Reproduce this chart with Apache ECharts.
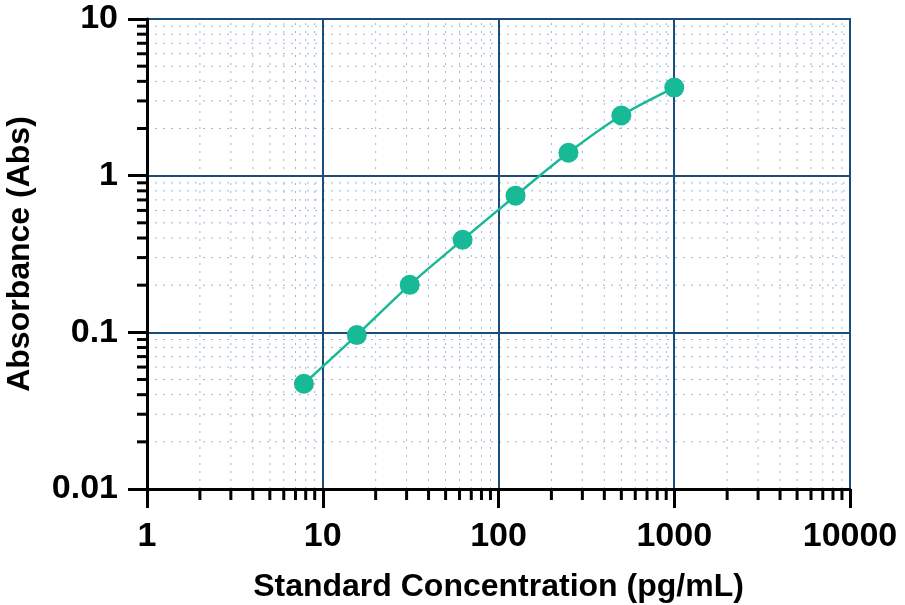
<!DOCTYPE html>
<html>
<head>
<meta charset="utf-8">
<script src="https://cdn.jsdelivr.net/npm/echarts@6/dist/echarts.min.js"></script>
<style>
  html, body { margin: 0; padding: 0; background: #fff; }
  #main { width: 905px; height: 605px; }
</style>
</head>
<body>
<div id="main"></div>
<script>
// standard curve: concentration (pg/mL) vs absorbance
var concentration = [7.8125, 15.625, 31.25, 62.5, 125, 250, 500, 1000];
var absorbance = [0.047, 0.096, 0.201, 0.39, 0.745, 1.40, 2.42, 3.65];

var xTickLabels = ['1', '10', '100', '1000', '10000'];
var yTickLabels = ['0.01', '0.1', '1', '10'];

var teal = '#17b997';
var gridBlue = '#1b4d7a';
var minorBlue = '#9db8d2';

// minor tick positions (2..9 in each decade)
function minorValues(lo, hi) {
  var out = [];
  for (var d = lo; d < hi; d *= 10) {
    for (var m = 2; m <= 9; m++) out.push(m * d);
  }
  return out;
}
var xMinor = minorValues(1, 10000);
var yMinor = minorValues(0.01, 10);

var myChart = echarts.init(document.getElementById('main'));

var fontFam = 'Liberation Sans, Arial, sans-serif';
var labelFont = { color: '#000', fontFamily: fontFam, fontWeight: 'bold', fontSize: 34 };
var nameFont = { color: '#000', fontFamily: fontFam, fontWeight: 'bold', fontSize: 32 };

function minorRender(isX) {
  return function (params, api) {
    var a, b, tick;
    if (isX) {
      var xv = api.value(0);
      a = api.coord([xv, 0.01]);
      b = api.coord([xv, 10]);
      tick = { x1: a[0], y1: a[1], x2: a[0], y2: a[1] + 11 };
    } else {
      var yv = api.value(1);
      a = api.coord([1, yv]);
      b = api.coord([10000, yv]);
      tick = { x1: a[0], y1: a[1], x2: a[0] - 10, y2: a[1] };
    }
    return {
      type: 'group',
      children: [
        { type: 'line', shape: { x1: a[0], y1: a[1], x2: b[0], y2: b[1] },
          style: { stroke: minorBlue, lineWidth: 1, lineDash: [2, 6] } },
        { type: 'line', shape: tick, style: { stroke: '#000', lineWidth: 3 } }
      ]
    };
  };
}

myChart.setOption({
  animation: false,
  grid: {
    left: 147, right: 55, top: 19, bottom: 116,
    outerBoundsMode: 'none',
    containLabel: false,
    show: true,
    borderColor: gridBlue,
    borderWidth: 2
  },
  xAxis: {
    type: 'log',
    logBase: 10,
    min: 1,
    max: 10000,
    name: 'Standard Concentration (pg/mL)',
    nameLocation: 'middle',
    nameGap: 82,
    nameTextStyle: nameFont,
    axisLine: { onZero: false, lineStyle: { color: '#000', width: 3 } },
    axisTick: { show: true, length: 19, lineStyle: { color: '#000', width: 3 } },
    axisLabel: Object.assign({ margin: 31, formatter: function (v) {
      return xTickLabels[Math.round(Math.log10(v))];
    } }, labelFont),
    splitLine: { show: true, lineStyle: { color: gridBlue, width: 2 } }
  },
  yAxis: {
    type: 'log',
    logBase: 10,
    min: 0.01,
    max: 10,
    name: 'Absorbance (Abs)',
    nameLocation: 'middle',
    nameGap: 111,
    nameTextStyle: nameFont,
    axisLine: { onZero: false, lineStyle: { color: '#000', width: 3 } },
    axisTick: { show: true, length: 19, lineStyle: { color: '#000', width: 3 } },
    axisLabel: Object.assign({ margin: 29, formatter: function (v) {
      return yTickLabels[Math.round(Math.log10(v)) + 2];
    } }, labelFont),
    splitLine: { show: true, lineStyle: { color: gridBlue, width: 2 } }
  },
  series: [
    {
      type: 'custom',
      z: -1,
      silent: true,
      renderItem: minorRender(true),
      data: xMinor.map(function (v) { return [v, 0.01]; })
    },
    {
      type: 'custom',
      z: -1,
      silent: true,
      renderItem: minorRender(false),
      data: yMinor.map(function (v) { return [1, v]; })
    },
    {
      name: 'Standard',
      type: 'line',
      smooth: 0.3,
      symbol: 'circle',
      symbolSize: 20,
      lineStyle: { color: teal, width: 2.5 },
      itemStyle: { color: teal },
      data: concentration.map(function (c, i) { return [c, absorbance[i]]; })
    }
  ]
});
</script>
</body>
</html>
